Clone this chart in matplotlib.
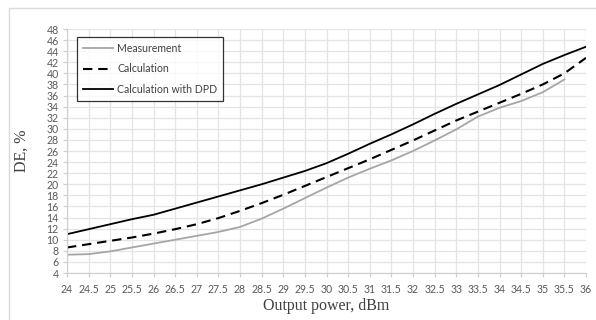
import matplotlib.pyplot as plt
from matplotlib.patches import Rectangle

# Output power, dBm (0.5 dB steps)
power = [24, 24.5, 25, 25.5, 26, 26.5, 27, 27.5, 28, 28.5, 29, 29.5,
         30, 30.5, 31, 31.5, 32, 32.5, 33, 33.5, 34, 34.5, 35, 35.5, 36]

# drain efficiency, %
measurement = [7.3, 7.4, 7.9, 8.6, 9.3, 10.0, 10.7, 11.4, 12.3, 13.8, 15.6, 17.5,
               19.4, 21.2, 22.8, 24.3, 26.0, 27.9, 29.9, 32.2, 33.8, 35.0, 36.6, 38.9]
calculation = [8.6, 9.2, 9.8, 10.4, 11.1, 11.9, 12.8, 13.9, 15.2, 16.6, 18.1, 19.7,
               21.3, 22.9, 24.5, 26.2, 27.9, 29.7, 31.5, 33.1, 34.7, 36.3, 38.0, 40.0, 42.8]
calc_dpd = [11.0, 11.9, 12.8, 13.7, 14.5, 15.6, 16.7, 17.8, 18.9, 20.0, 21.2, 22.4,
            23.8, 25.5, 27.3, 29.0, 30.8, 32.7, 34.5, 36.2, 37.9, 39.8, 41.7, 43.3, 44.8]

x_ticks = [24 + 0.5 * i for i in range(25)]
y_ticks = list(range(4, 49, 2))

fig = plt.figure(figsize=(5.96, 3.2), dpi=100)
ax = fig.add_axes([67 / 596, 1 - 273 / 320, 519 / 596, 244 / 320])

# light chart border like the Excel chart frame
fig.patches.append(Rectangle((9 / 596, -0.1), 1.2, 1 - 8 / 320 + 0.1,
                             transform=fig.transFigure, fill=False,
                             edgecolor="#d9d9d9", linewidth=1.0))

ax.plot(power[:len(measurement)], measurement, color="#a6a6a6", linewidth=1.3,
        label="Measurement")
ax.plot(power, calculation, color="black", linewidth=1.5, dashes=(4.5, 2.8),
        label="Calculation")
ax.plot(power, calc_dpd, color="black", linewidth=1.3, label="Calculation with DPD")

ax.set_xlim(24, 36)
ax.set_ylim(4, 48)
ax.set_xticks(x_ticks)
ax.set_xticklabels([f"{v:g}" for v in x_ticks])
ax.set_yticks(y_ticks)
ax.grid(True, color="#e4e4e4", linewidth=0.9)
ax.set_axisbelow(True)

for side in ("top", "right"):
    ax.spines[side].set_visible(False)
for side in ("left", "bottom"):
    ax.spines[side].set_color("#d0d0d0")
    ax.spines[side].set_linewidth(0.9)

ax.tick_params(axis="both", colors="#d0d0d0", labelcolor="#595959",
               labelsize=7.6, length=3, width=0.9, pad=3)
ax.tick_params(axis="x", pad=5)
for lab in ax.get_xticklabels() + ax.get_yticklabels():
    lab.set_family("Lato")

ax.set_xlabel("Output power, dBm", family="Liberation Serif", fontsize=11.5,
              color="#404040", labelpad=2)
ax.set_ylabel("DE, %", family="Liberation Serif", fontsize=11.5,
              color="#404040", labelpad=12)

leg = ax.legend(loc="upper left", bbox_to_anchor=(10 / 519, 1 - 8 / 244),
                prop={"family": "Lato", "size": 7.6}, frameon=True,
                fancybox=False, handlelength=2.9, handletextpad=0.35,
                labelspacing=0.9, borderpad=0.55, borderaxespad=0)
leg.get_frame().set_edgecolor("black")
leg.get_frame().set_linewidth(0.9)
for t in leg.get_texts():
    t.set_color("#404040")

fig.savefig("out.png", dpi=100)
